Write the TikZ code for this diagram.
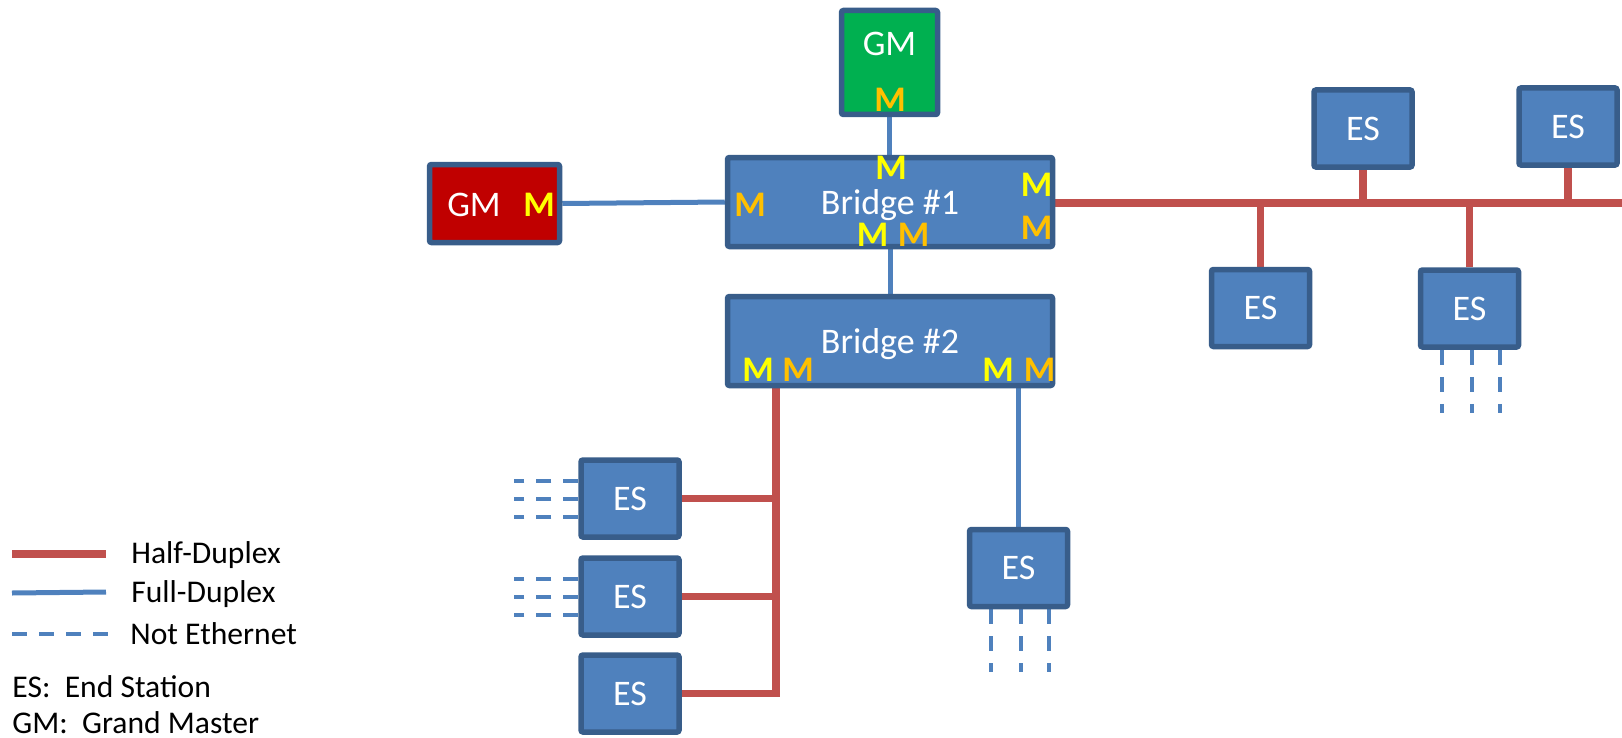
\documentclass[tikz,border=0pt]{standalone}
\usepackage{fontspec}
\setmainfont{Carlito}
\usetikzlibrary{backgrounds}
\definecolor{esfill}{HTML}{4F81BD}
\definecolor{esedge}{HTML}{385D8A}
\definecolor{halfred}{HTML}{C0504D}
\definecolor{fullblue}{HTML}{4F81BD}
\definecolor{gmgreen}{HTML}{00B050}
\definecolor{gmred}{HTML}{C00000}
\definecolor{myellow}{HTML}{FFFF00}
\definecolor{morange}{HTML}{FFC000}
\begin{document}
\begin{tikzpicture}[x=0.5pt,y=-0.5pt,
    box/.style={draw=esedge, line width=2.75pt, rounded corners=1pt, inner sep=0pt,
        text=white, font=\fontsize{18}{21}\selectfont},
    es/.style={box, fill=esfill, minimum width=49pt, minimum height=38.5pt},
    bridge/.style={box, fill=esfill, minimum width=162.5pt, minimum height=44.5pt, text depth=0pt},
    boxtxt/.style={text=white, inner sep=0pt, font=\fontsize{18}{21}\selectfont},
    mtag/.style={inner sep=0pt, font=\fontsize{18}{21}\selectfont\bfseries},
    half/.style={halfred, line width=3.75pt},
    full/.style={fullblue, line width=2.5pt},
    noneth/.style={fullblue, line width=2pt, dash pattern=on 7.5pt off 6pt},
    legend/.style={anchor=base west, inner sep=0pt, font=\fontsize{15.8}{19}\selectfont}]
    \useasboundingbox (0,0) rectangle (1622,738);

    % grand masters
    \node[box, fill=gmgreen, minimum width=48pt, minimum height=52pt] (gmtop) at (889.5,62.5) {};
    \node[boxtxt] (gmtoptxt) at (889.5,44) {GM};
    \node[mtag, morange] (gmtopm) at (890,100) {M};
    \node[box, fill=gmred, minimum width=65pt, minimum height=39pt] (gmleft) at (494.5,203.5) {};
    \node[boxtxt] (gmlefttxt) at (474,205) {GM};
    \node[mtag, myellow] (gmleftm) at (539,205) {M};

    % bridges
    \node[bridge] (br1) at (890,202) {Bridge \#1};
    \node[mtag, myellow] (br1mt) at (891,168) {M};
    \node[mtag, morange] (br1ml) at (750,205) {M};
    \node[mtag, myellow] (br1mr1) at (1036.5,184.5) {M};
    \node[mtag, morange] (br1mr2) at (1036.5,227.5) {M};
    \node[mtag, myellow] (br1mb1) at (872.5,235) {M};
    \node[mtag, morange] (br1mb2) at (913.5,235) {M};
    \node[bridge] (br2) at (890,341) {Bridge \#2};
    \node[mtag, myellow] (br2m1) at (758,370) {M};
    \node[mtag, morange] (br2m2) at (798,370) {M};
    \node[mtag, myellow] (br2m3) at (998,370) {M};
    \node[mtag, morange] (br2m4) at (1039.5,370) {M};

    % end stations
    \node[es] (est1) at (1363,128.5) {ES};
    \node[es] (est2) at (1568,126.5) {ES};
    \node[es] (esb1) at (1260.5,308) {ES};
    \node[es] (esb2) at (1469.5,308.5) {ES};
    \node[es] (esl1) at (630,498.5) {ES};
    \node[es] (esl2) at (630,596.5) {ES};
    \node[es] (esl3) at (630,693.5) {ES};
    \node[es] (esm) at (1018.5,568) {ES};

    % links
    \begin{scope}[on background layer]
        \draw[full] (gmtop.south) -- (gmtop.south |- br1.north);
        \draw[full] (gmleft.east) -- (br1.west);
        \draw[full] (br1) -- (br2);
        \coordinate (bus) at (1622,203);
        \draw[half] (br1.east |- bus) -- (bus);
        \foreach \n in {est1,est2,esb1,esb2}
            \draw[half] (\n) -- (\n |- bus);
        \coordinate (trunk) at (776,0);
        \draw[half] (br2 -| trunk) |- (esl3);
        \foreach \n in {esl1,esl2}
            \draw[half] (\n) -- (\n -| trunk);
        \draw[full] (br2 -| esm) -- (esm);
        % non-ethernet ports
        \foreach \n in {esl1,esl2}
            \foreach \d in {9pt,0pt,-9pt}
                \draw[noneth] ([yshift=\d]\n.west) -- ++(-64,0);
        \foreach \n in {esb2,esm}
            \foreach \d in {-14pt,1pt,15pt}
                \draw[noneth] ([xshift=\d]\n.south) -- ++(0,63);
    \end{scope}

    % legend
    \draw[half] (12,554) -- (106,554);
    \draw[full] (12,593) -- (106,592);
    \draw[noneth] (12,634) -- (108,634);
    \node[legend] (lhalf) at (131,563) {Half-Duplex};
    \node[legend] (lfull) at (131,602) {Full-Duplex};
    \node[legend] (lnon) at (130,644) {Not Ethernet};
    \node[legend] (les) at (12,697) {ES:\ \ End Station};
    \node[legend] (lgm) at (12,733) {GM:\ \ Grand Master};
\end{tikzpicture}
\end{document}
